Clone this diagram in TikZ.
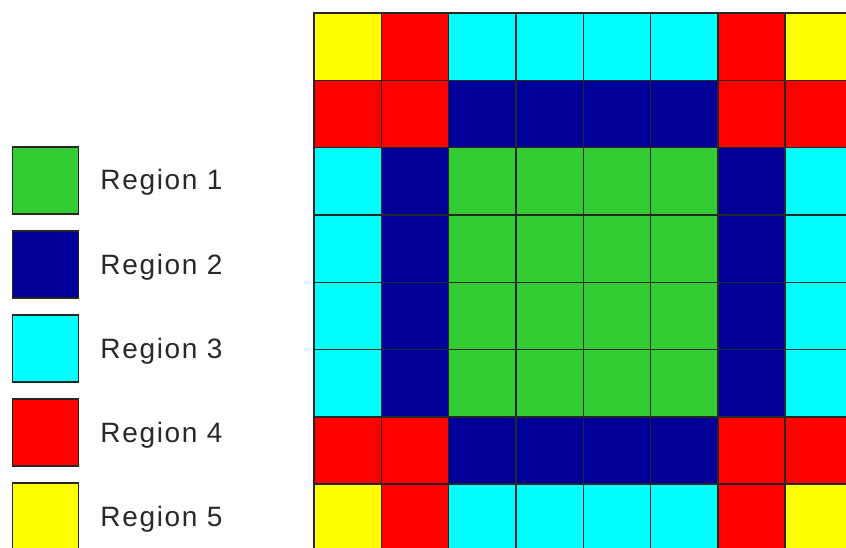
\documentclass[tikz,border=0pt]{standalone}
\usepackage{fontspec}
\usepackage{xcolor}
\usetikzlibrary{positioning}
\newfontfamily\lblfont[LetterSpace=6]{Liberation Sans}

\definecolor{regG}{RGB}{51,204,51}
\definecolor{regN}{RGB}{0,0,153}
\definecolor{regC}{RGB}{0,255,255}
\definecolor{regR}{RGB}{255,0,0}
\definecolor{regY}{RGB}{255,255,0}
\definecolor{txtgray}{RGB}{40,40,40}

\begin{document}
\begin{tikzpicture}[
  x=1pt, y=-1pt,
  node distance=15.6pt and 21pt,
  cell/.style={draw=black!85, line width=1.4pt},
  legsq/.style={draw=black!85, line width=1.4pt, minimum width=66pt,
                minimum height=67pt, inner sep=0pt},
  lbl/.style={font=\fontsize{28}{30}\selectfont\lblfont, text=txtgray,
              inner sep=0pt, text height=19pt, text depth=0pt, anchor=west},
]
\useasboundingbox (0,0) rectangle (846,548);
\clip (0,0) rectangle (846,548);

%% Grid of regions
\def\cs{67.3}
\foreach \row [count=\r from 0] in {
  {Y,R,C,C,C,C,R,Y},
  {R,R,N,N,N,N,R,R},
  {C,N,G,G,G,G,N,C},
  {C,N,G,G,G,G,N,C},
  {C,N,G,G,G,G,N,C},
  {C,N,G,G,G,G,N,C},
  {R,R,N,N,N,N,R,R},
  {Y,R,C,C,C,C,R,Y}}
  \foreach \c [count=\k from 0] in \row
    \draw[cell, fill=reg\c] (314+\k*\cs, 13+\r*\cs) rectangle ++(\cs,\cs);

%% Legend
\node[legsq, fill=regG] (sq1) at (45.5,180.5) {};
\node[legsq, fill=regN, below=of sq1] (sq2) {};
\node[legsq, fill=regC, below=of sq2] (sq3) {};
\node[legsq, fill=regR, below=of sq3] (sq4) {};
\node[legsq, fill=regY, below=of sq4] (sq5) {};

\node[lbl, right=of sq1] (lb1) {Region 1};
\node[lbl, right=of sq2] (lb2) {Region 2};
\node[lbl, right=of sq3] (lb3) {Region 3};
\node[lbl, right=of sq4] (lb4) {Region 4};
\node[lbl, right=of sq5] (lb5) {Region 5};

\end{tikzpicture}
\end{document}
